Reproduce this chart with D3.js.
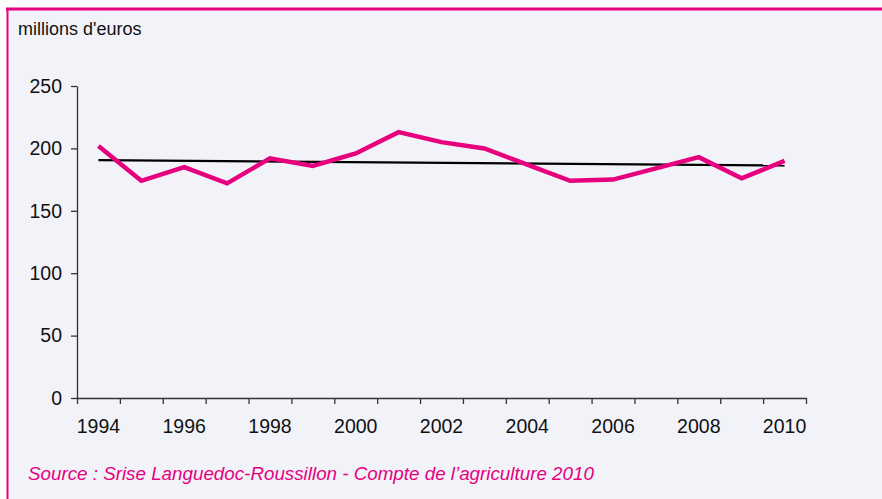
<!DOCTYPE html>
<html>
<head>
<meta charset="utf-8">
<script src="https://cdn.jsdelivr.net/npm/d3@7"></script>
<style>
  body { margin: 0; background: #fff; }
  text { font-family: "Liberation Sans", Arial, sans-serif; }
</style>
</head>
<body>
<div id="chart"></div>
<script>
// data
let years = [1994, 1995, 1996, 1997, 1998, 1999, 2000, 2001, 2002,
             2003, 2004, 2005, 2006, 2007, 2008, 2009, 2010];
let values = [202, 174, 185, 172, 192, 186, 196, 213, 205,
              200, 187, 174, 175, 184, 193, 176, 190];
let yTicks = [0, 50, 100, 150, 200, 250];
let xLabels = [1994, 1996, 1998, 2000, 2002, 2004, 2006, 2008, 2010];
let unitLabel = "millions d'euros";
let sourceText = "Source : Srise Languedoc-Roussillon - Compte de l\u2019agriculture 2010";

let svgWidth = 882;
let svgHeight = 499;
let pink = '#e6007e';

let svg = d3.select('#chart')
  .append('svg')
  .attr('width', svgWidth)
  .attr('height', svgHeight);

// panel background + pink top/left border
svg.append('rect')
  .attr('x', 7).attr('y', 8)
  .attr('width', svgWidth - 7).attr('height', svgHeight - 8)
  .attr('fill', '#f2f3f9');
svg.append('line')
  .attr('x1', 6).attr('x2', svgWidth).attr('y1', 9).attr('y2', 9)
  .attr('stroke', pink).attr('stroke-width', 3);
svg.append('line')
  .attr('x1', 7.5).attr('x2', 7.5).attr('y1', 8).attr('y2', svgHeight)
  .attr('stroke', pink).attr('stroke-width', 2);

// scales
let x = d3.scaleBand()
  .domain(years)
  .range([77, 806])
  .padding(0);
let xEdge = d3.scaleLinear()
  .domain([0, years.length])
  .range([77, 806]);
let y = d3.scaleLinear()
  .domain([0, 250])
  .range([398, 86]);

// axes
let axisColor = '#333';
let yAxis = svg.append('g')
  .attr('transform', 'translate(77,0)')
  .call(d3.axisLeft(y).tickValues(yTicks).tickSize(6).tickSizeOuter(0).tickPadding(9));
yAxis.selectAll('text').attr('font-size', 19.5).attr('fill', '#111')
  .style('font-family', '"Liberation Sans", Arial, sans-serif');

let xTickAxis = svg.append('g')
  .attr('transform', 'translate(0,398)')
  .call(d3.axisBottom(xEdge).tickValues(d3.range(years.length + 1))
    .tickSize(6).tickSizeOuter(0).tickFormat(''));

let xLabelAxis = svg.append('g')
  .attr('transform', 'translate(0,398)')
  .call(d3.axisBottom(x).tickValues(xLabels).tickSize(0).tickPadding(21));
xLabelAxis.select('.domain').remove();
xLabelAxis.selectAll('text').attr('font-size', 19.5).attr('fill', '#111')
  .style('font-family', '"Liberation Sans", Arial, sans-serif');

svg.selectAll('.domain, .tick line').attr('stroke', axisColor).attr('stroke-width', 1.3);

// trend line (least squares)
let n = years.length;
let mx = d3.mean(years), my = d3.mean(values);
let slope = d3.sum(years, (d, i) => (d - mx) * (values[i] - my)) /
            d3.sum(years, d => (d - mx) * (d - mx));

let cx = d => x(d) + x.bandwidth() / 2;

svg.append('path')
  .datum([years[0], years[n - 1]])
  .attr('fill', 'none')
  .attr('stroke', '#000')
  .attr('stroke-width', 2.2)
  .attr('d', d3.line()
    .x(d => cx(d))
    .y(d => y(my + slope * (d - mx))));

// main series
svg.append('path')
  .datum(values)
  .attr('fill', 'none')
  .attr('stroke', pink)
  .attr('stroke-width', 4.5)
  .attr('stroke-linejoin', 'miter')
  .attr('d', d3.line()
    .x((d, i) => cx(years[i]))
    .y(d => y(d)));

// texts
svg.append('text')
  .attr('x', 18).attr('y', 35)
  .attr('font-size', 18)
  .attr('fill', '#111')
  .text(unitLabel);

svg.append('text')
  .attr('x', 28).attr('y', 480)
  .attr('font-size', 18.8)
  .attr('font-style', 'italic')
  .attr('fill', pink)
  .text(sourceText);
</script>
</body>
</html>
